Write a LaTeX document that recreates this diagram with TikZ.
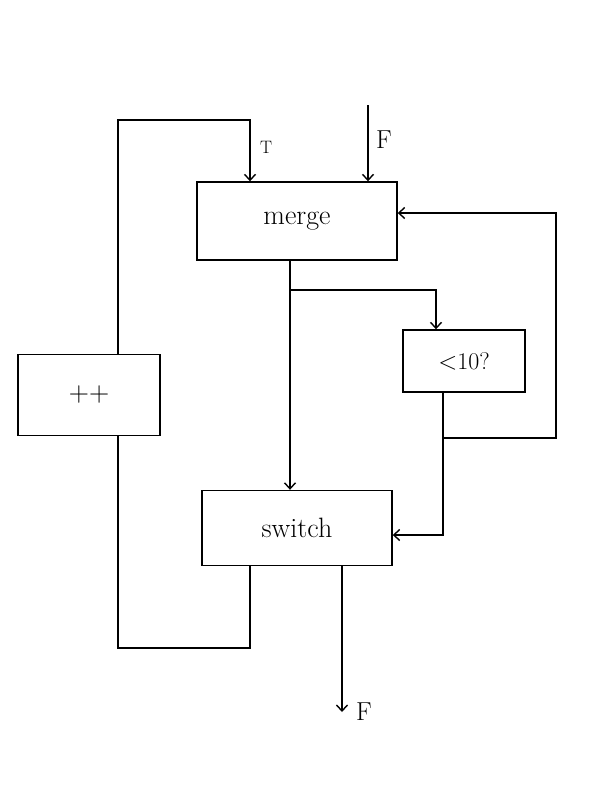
\documentclass[tikz,border=0pt]{standalone}
\usepackage{tikz}
\usetikzlibrary{arrows.meta}

\begin{document}
\begin{tikzpicture}[x=1pt,y=-1pt,line width=1.4pt,>={Straight Barb[length=6pt,width=11pt]},
    box/.style={draw,rectangle,inner sep=0pt,font=\fontsize{28}{32}\selectfont}]
    \useasboundingbox (0,0) rectangle (606,796);
    \node[box,minimum width=200pt,minimum height=78pt] (merge) at (297,221) {merge};
    \node[box,minimum width=122pt,minimum height=62pt,font=\fontsize{24}{28}\selectfont] (cmp) at (464,361) {$<$10?};
    \node[box,minimum width=142pt,minimum height=81pt] (inc) at (89,395) {++};
    \node[box,minimum width=190pt,minimum height=75pt] (switch) at (297,528) {switch};
    \coordinate (fin) at (368,105);
    \coordinate (br) at (290,290);
    \coordinate (lp) at (443,438);
    \coordinate (out) at (342,712);
    % inputs of merge
    \draw[->] ([xshift=29pt]inc.north) -- (118,120) -- (250,120) -- (merge.north -| 250,0)
        node[pos=0.45,right=6pt,font=\fontsize{18}{20}\selectfont] {T};
    \draw[->] (fin) -- (merge.north -| fin) node[pos=0.45,right=4pt,font=\fontsize{26}{30}\selectfont] {F};
    % merge to switch and to the test
    \draw[->] ([xshift=-7pt]merge.south) -- ([xshift=-7pt]switch.north);
    \draw[->] (br) -| ([xshift=-28pt]cmp.north);
    \draw[->] ([xshift=-21pt]cmp.south) |- ([yshift=-7pt]switch.east);
    \draw[->] (lp) -- (556,438) -- (556,213) -- ([yshift=8pt]merge.east);
    % back to ++ and out
    \draw ([xshift=-47pt]switch.south) -- (250,648) -- (118,648) -- ([xshift=29pt]inc.south);
    \draw[->] ([xshift=45pt]switch.south) -- (out) node[right=10pt,font=\fontsize{26}{30}\selectfont] {F};
\end{tikzpicture}
\end{document}
